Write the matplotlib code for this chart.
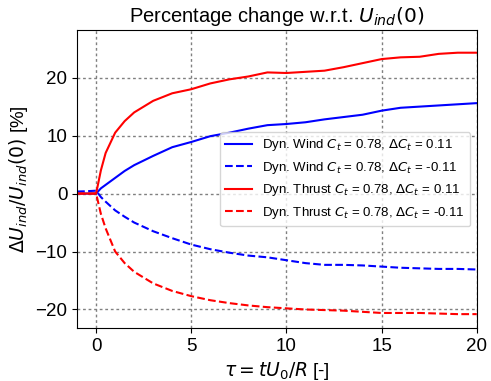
import matplotlib as mpl
mpl.use('Agg')
import matplotlib.pyplot as plt

# time axis tau = t U0 / R
tau = [-1, -0.5, 0, 0.25, 0.5, 1, 1.5, 2, 3, 4, 5, 6, 7, 8, 9, 10,
       11, 12, 13, 14, 15, 16, 17, 18, 19, 20]

# percentage change of induced velocity
wind_up = [0.0, 0.0, 0.0, 0.9, 1.5, 2.7, 3.9, 4.9, 6.5, 8.0, 8.9, 9.9, 10.5,
           11.2, 11.8, 12.0, 12.3, 12.8, 13.2, 13.6, 14.3, 14.8, 15.0, 15.2,
           15.4, 15.6]
wind_dn = [0.35, 0.4, 0.5, -0.6, -1.4, -2.9, -4.0, -5.0, -6.5, -7.7, -8.8,
           -9.6, -10.2, -10.7, -11.0, -11.5, -12.0, -12.3, -12.3, -12.4,
           -12.6, -12.8, -12.9, -13.0, -13.0, -13.1]
thrust_up = [0.0, 0.0, 0.0, 4.0, 7.0, 10.5, 12.5, 14.0, 16.0, 17.3, 18.0,
             19.0, 19.7, 20.2, 20.9, 20.8, 21.0, 21.2, 21.8, 22.5, 23.2,
             23.5, 23.6, 24.1, 24.3, 24.3]
thrust_dn = [0.0, 0.0, 0.0, -3.5, -6.0, -10.0, -12.0, -13.5, -15.5, -16.8,
             -17.7, -18.4, -18.9, -19.3, -19.6, -19.8, -20.0, -20.1, -20.2,
             -20.4, -20.6, -20.6, -20.6, -20.7, -20.8, -20.8]

labels = [r'Dyn. Wind $C_t$ = 0.78, $\Delta C_t$ = 0.11',
          r'Dyn. Wind $C_t$ = 0.78, $\Delta C_t$ = -0.11',
          r'Dyn. Thrust $C_t$ = 0.78, $\Delta C_t$ = 0.11',
          r'Dyn. Thrust $C_t$ = 0.78, $\Delta C_t$ = -0.11']

plt.rcParams['font.family'] = ['Liberation Sans', 'DejaVu Sans']
plt.rcParams['mathtext.fontset'] = 'dejavusans'

fig = plt.figure(figsize=(4.91, 3.81), dpi=100)
ax = fig.add_axes([0.157, 0.139, 0.814, 0.782])

ax.plot(tau, wind_up, color='blue', ls='-', lw=1.5, label=labels[0])
ax.plot(tau, wind_dn, color='blue', ls='--', lw=1.5, label=labels[1])
ax.plot(tau, thrust_up, color='red', ls='-', lw=1.5, label=labels[2])
ax.plot(tau, thrust_dn, color='red', ls='--', lw=1.5, label=labels[3])

ax.set_xlim(-1, 20)
ax.set_ylim(-23.2, 28.2)
ax.set_xticks([0, 5, 10, 15, 20])
ax.set_yticks([-20, -10, 0, 10, 20])
ax.tick_params(labelsize=13.5)
ax.grid(True, color='grey', ls=(0, (2, 2)), lw=1)

ax.set_title(r'Percentage change w.r.t. $U_{ind}(0)$', fontsize=14.5)
ax.set_xlabel(r'$\tau = tU_0/R$ [-]', fontsize=13.5)
ax.set_ylabel(r'$\Delta U_{ind}/U_{ind}(0)$ [%]', fontsize=13.5)
ax.legend(loc='center right', fontsize=9.5)

plt.savefig('out.png')
plt.close()
